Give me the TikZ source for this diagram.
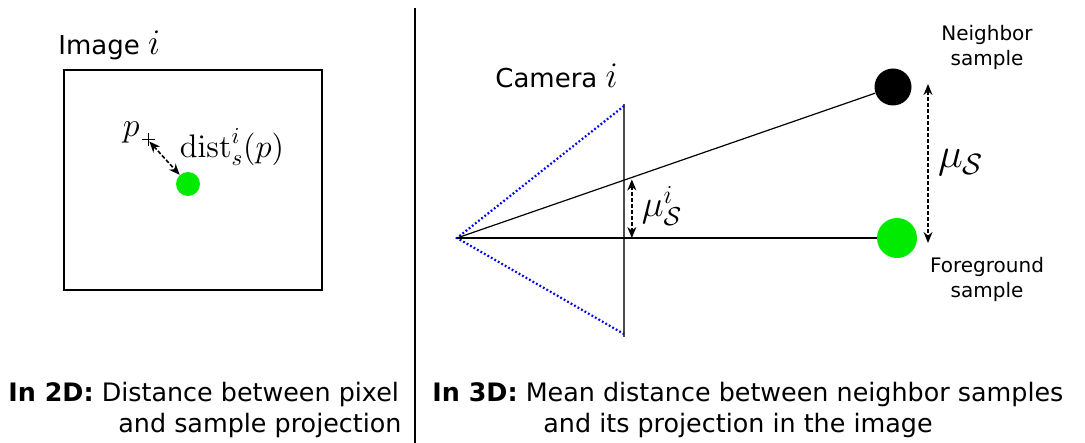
\RequirePackage{fix-cm}
\documentclass[tikz,border=0pt]{standalone}
\usepackage[no-math]{fontspec}
\setmainfont{DejaVu Sans}
\usetikzlibrary{arrows.meta,positioning}
\definecolor{fggreen}{RGB}{0,235,0}
\newcommand{\bigmath}[2]{{\fontsize{#1}{#1}\selectfont$#2$}}
\tikzset{
  dimarrow/.style={{Stealth[length=5.5pt,width=4.5pt]}-{Stealth[length=5.5pt,width=4.5pt]},
                   dash pattern=on 2pt off 1pt, line width=0.8pt},
  ray/.style={line width=0.6pt},
  frustum/.style={blue, line width=1.1pt, dash pattern=on 0.9pt off 1.1pt},
  sample/.style={circle, inner sep=0pt, minimum size=#1},
  title/.style={font=\fontsize{13}{15}\selectfont},
  note/.style={font=\fontsize{10}{12.5}\selectfont, align=center},
  caption/.style={font=\fontsize{12.7}{14}\selectfont, anchor=base west, inner sep=0pt},
  mathlbl/.style={font=\fontsize{#1}{#1}\selectfont},
}
\begin{document}
\begin{tikzpicture}[x=0.5pt,y=-0.5pt]
  \useasboundingbox (0,0) rectangle (1085,443);
  % 2D: image
  \draw[line width=0.7pt] (64,70) rectangle (322,290);
  \node[title, anchor=base west, inner sep=0pt] (imglbl) at (58,55) {Image \bigmath{18}{i}};
  \coordinate (p) at (148,140);
  \draw[line width=0.5pt] (p) +(-6.5,0) -- +(6.5,0) (p) +(0,-6.5) -- +(0,6.5);
  \node[mathlbl=17, anchor=east, inner sep=1pt] (plbl) at (142,132) {$p$};
  \node[sample=12pt, fill=fggreen] (pix) at (188,184) {};
  \draw[dimarrow, shorten <=1pt] (p) -- (pix);
  \node[mathlbl=16.3] (distlbl) at (232,147) {$\mathrm{dist}^i_s(p)$};
  % separator
  \draw[line width=1pt] (415,8) -- (415,443);
  % 3D: camera
  \coordinate (apex) at (457,238);
  \coordinate (ptop) at (624,104);
  \coordinate (pbot) at (624,337);
  \node[title, anchor=base west, inner sep=0pt] (camlbl) at (495,88) {Camera \bigmath{18}{i}};
  \draw[gray!60!black, line width=0.8pt] (ptop) -- (pbot);
  \draw[frustum] (624,106) -- (apex) -- (624,334);
  \node[sample=18.5pt, fill=black] (nbr) at (893,87) {};
  \node[sample=20pt, fill=fggreen] (fg) at (897,238) {};
  \draw[ray] (apex) -- (nbr);
  \draw[ray] (apex) -- (fg);
  \path (apex) -- (nbr.center) coordinate[pos=0.401] (mtop);
  \draw[dimarrow, shorten <=1pt] (mtop) -- (mtop |- apex);
  \node[mathlbl=18.5] (mulbl) at (662,206) {$\mu^i_{\mathcal{S}}$};
  \coordinate (mstop) at (928,84);
  \coordinate (msbot) at (928,243);
  \draw[dimarrow] (mstop) -- (msbot);
  \node[mathlbl=21] (muslbl) at (961,163) {$\mu_{\mathcal{S}}$};
  \node[note] (nbrlbl) at (987,47) {Neighbor\\sample};
  \node[note] (fglbl) at (987,279) {Foreground\\sample};
  % captions
  \node[caption] (cap2a) at (8,401) {\textbf{In 2D:} Distance between pixel};
  \node[caption] (cap2b) at (118,432) {and sample projection};
  \node[caption] (cap3a) at (432,401) {\textbf{In 3D:} Mean distance between neighbor samples};
  \node[caption] (cap3b) at (543,432) {and its projection in the image};
\end{tikzpicture}
\end{document}
